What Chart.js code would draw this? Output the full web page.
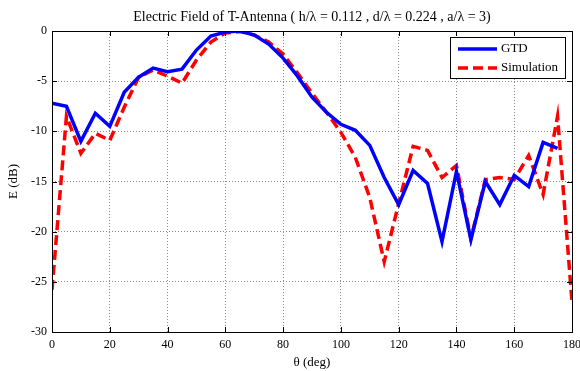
<!DOCTYPE html>
<html>
<head>
<meta charset="utf-8">
<script src="https://cdn.jsdelivr.net/npm/chart.js@4/dist/chart.umd.min.js"></script>
<style>
    html, body { margin: 0; padding: 0; background: #fff; }
    canvas { display: block; }
</style>
</head>
<body>
<canvas id="fieldChart" width="580" height="371"></canvas>
<script>
const gtdAngles = [0, 5, 10, 15, 20, 25, 30, 35, 40, 45, 50, 55, 60, 65, 70, 75, 80, 85,
    90, 95, 100, 105, 110, 115, 120, 125, 130, 135, 140, 145, 150, 155, 160, 165, 170, 175];
const gtdValues = [-7.2, -7.5, -11.0, -8.2, -9.5, -6.1, -4.6, -3.7, -4.05, -3.8, -1.9, -0.5,
    -0.1, 0, -0.4, -1.3, -2.7, -4.5, -6.6, -8.1, -9.3, -9.9, -11.4, -14.6, -17.3, -13.9,
    -15.2, -21.0, -14.0, -20.8, -15.0, -17.3, -14.4, -15.5, -11.1, -11.7];

const simAngles = [0, 5, 10, 15, 20, 25, 30, 35, 40, 45, 50, 55, 60, 65, 70, 75, 80, 85,
    90, 95, 100, 105, 110, 115, 120, 125, 130, 135, 140, 145, 150, 155, 160, 165, 170, 175, 180];
const simValues = [-25.8, -8.5, -12.2, -10.2, -10.9, -7.6, -4.6, -3.9, -4.5, -5.2, -2.9, -1.1,
    -0.2, -0.05, -0.4, -1.1, -2.3, -4.2, -6.2, -8.1, -10.1, -12.6, -16.6, -23.0, -17.2, -11.5,
    -11.9, -14.6, -13.4, -20.7, -14.8, -14.6, -14.8, -12.4, -16.3, -8.5, -27.0];

const xTicks = [0, 20, 40, 60, 80, 100, 120, 140, 160, 180];
const yTicks = [-30, -25, -20, -15, -10, -5, 0];

const serif = "'Liberation Serif', 'Times New Roman', serif";
const chartTitle = "Electric Field of T-Antenna ( h/\u03bb = 0.112 , d/\u03bb = 0.224 , a/\u03bb = 3)";

const toPoints = (xs, ys) => xs.map((x, i) => ({ x: x, y: ys[i] }));

// box, inward ticks, title and legend drawn the matlab way
const framePlugin = {
    id: 'frame',
    afterDraw(chart) {
        const { ctx, chartArea: a, scales } = chart;
        ctx.save();
        ctx.strokeStyle = '#000';
        ctx.lineWidth = 1;
        ctx.strokeRect(a.left + 0.5, a.top + 0.5, a.right - a.left, a.bottom - a.top);

        ctx.beginPath();
        xTicks.forEach(v => {
            const px = Math.round(scales.x.getPixelForValue(v)) + 0.5;
            ctx.moveTo(px, a.bottom); ctx.lineTo(px, a.bottom - 5);
            ctx.moveTo(px, a.top); ctx.lineTo(px, a.top + 5);
        });
        yTicks.forEach(v => {
            const py = Math.round(scales.y.getPixelForValue(v)) + 0.5;
            ctx.moveTo(a.left, py); ctx.lineTo(a.left + 5, py);
            ctx.moveTo(a.right, py); ctx.lineTo(a.right - 5, py);
        });
        ctx.stroke();

        // title
        ctx.fillStyle = '#000';
        ctx.font = '14px ' + serif;
        ctx.textAlign = 'center';
        ctx.textBaseline = 'middle';
        ctx.fillText(chartTitle, (a.left + a.right) / 2, 17);

        // legend
        const lx = 450, ly = 37, lw = 115, lh = 41;
        ctx.font = '13px ' + serif;
        ctx.fillStyle = '#fff';
        ctx.fillRect(lx, ly, lw, lh);
        ctx.strokeStyle = '#000';
        ctx.strokeRect(lx + 0.5, ly + 0.5, lw, lh);
        ctx.textAlign = 'left';
        chart.data.datasets.forEach((ds, i) => {
            const y = ly + 12 + i * 19;
            ctx.save();
            ctx.strokeStyle = ds.borderColor;
            ctx.lineWidth = ds.borderWidth;
            ctx.setLineDash(ds.borderDash || []);
            ctx.beginPath();
            ctx.moveTo(lx + 8, y);
            ctx.lineTo(lx + 47, y);
            ctx.stroke();
            ctx.restore();
            ctx.fillStyle = '#000';
            ctx.fillText(ds.label, lx + 51, y);
        });
        ctx.restore();
    }
};

const ctx = document.getElementById('fieldChart').getContext('2d');
new Chart(ctx, {
    type: 'line',
    data: {
        datasets: [
            {
                label: 'GTD',
                data: toPoints(gtdAngles, gtdValues),
                borderColor: '#0000ff',
                borderWidth: 3.5,
                pointRadius: 0,
                tension: 0
            },
            {
                label: 'Simulation',
                data: toPoints(simAngles, simValues),
                borderColor: '#ff0000',
                borderWidth: 3.5,
                borderDash: [10, 5],
                pointRadius: 0,
                tension: 0
            }
        ]
    },
    options: {
        responsive: false,
        animation: false,
        layout: { padding: { top: 31, right: 8, left: 0, bottom: 0 } },
        plugins: {
            legend: { display: false },
            tooltip: { enabled: false }
        },
        scales: {
            x: {
                type: 'linear',
                min: 0,
                max: 180,
                afterFit: scale => {
                    scale.height = 39;
                    scale.paddingLeft = 0;
                    scale.paddingRight = 0;
                },
                afterBuildTicks: scale => { scale.ticks = xTicks.map(v => ({ value: v })); },
                grid: { color: 'rgba(0,0,0,0.45)', drawTicks: false },
                border: { display: false, dash: [1, 2] },
                ticks: { color: '#000', padding: 6, maxRotation: 0, font: { family: serif, size: 12 } },
                title: { display: true, text: '\u03b8 (deg)', color: '#000', padding: { top: 0, bottom: 1 },
                    font: { family: serif, size: 13 } }
            },
            y: {
                min: -30,
                max: 0,
                afterFit: scale => {
                    scale.width = 52;
                    scale.paddingTop = 0;
                    scale.paddingBottom = 0;
                },
                afterBuildTicks: scale => { scale.ticks = yTicks.map(v => ({ value: v })); },
                grid: { color: 'rgba(0,0,0,0.45)', drawTicks: false },
                border: { display: false, dash: [1, 2] },
                ticks: { color: '#000', padding: 5, font: { family: serif, size: 12 } },
                title: { display: true, text: 'E (dB)', color: '#000', padding: { top: 6, bottom: 0 },
                    font: { family: serif, size: 13 } }
            }
        }
    },
    plugins: [framePlugin]
});
</script>
</body>
</html>
